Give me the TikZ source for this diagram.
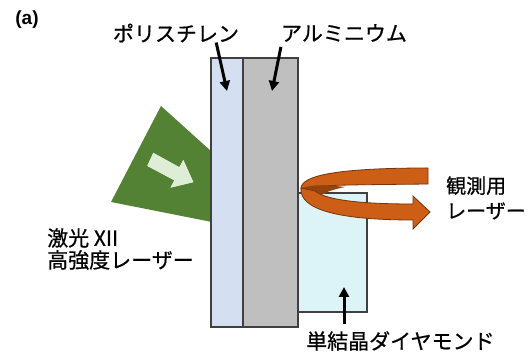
\documentclass[tikz,border=0pt]{standalone}
\usepackage{fontspec}
\setmainfont{Noto Sans CJK JP}[FakeBold=0.6]
\newfontfamily\tagfont{Liberation Sans}
\usetikzlibrary{arrows.meta,positioning,calc}
\definecolor{drive}{RGB}{84,130,53}
\definecolor{drivelight}{RGB}{222,238,214}
\definecolor{psfill}{RGB}{212,223,241}
\definecolor{alfill}{RGB}{191,191,191}
\definecolor{dmfill}{RGB}{220,244,247}
\definecolor{edge}{RGB}{64,64,64}
\definecolor{probe}{RGB}{204,94,22}
\definecolor{probedark}{RGB}{150,66,14}
\definecolor{probeedge}{RGB}{118,52,12}

\begin{document}
\begin{tikzpicture}[x=1pt,y=-1pt,
    lbl/.style={font=\fontsize{21}{24}\selectfont,inner sep=0pt},
    pointer/.style={line width=3pt,-{Triangle[length=10pt,width=10pt]}},
    layer/.style={draw=edge,line width=1.2pt}]
  \useasboundingbox (0,0) rectangle (531,352);

  % drive laser
  \fill[drive] (161,106) -- (212,152) -- (212,222) -- (111,202) -- cycle;
  \draw[drivelight!70!white,fill=drivelight,line width=0.6pt]
    (153.4,153.2) -- (179.5,167.6) -- (183.3,160.5) -- (193,182)
    -- (170.9,187.3) -- (174.7,180.2) -- (147.6,165.8) -- cycle;

  % target
  \draw[layer,fill=psfill] (211,58) rectangle (243,327);
  \draw[layer,fill=alfill] (243,58) rectangle (298,327);
  \draw[layer,fill=dmfill] (298,193) rectangle (367,312);

  % probe beam
  \draw[probeedge,fill=probe,line width=0.8pt]
    (428,168) .. controls (340,168) and (300,175) .. (301,189)
    .. controls (312,185) and (340,185) .. (428,184) -- cycle;
  \fill[probedark] (303,188) .. controls (312,184) and (330,185) .. (345,187)
    .. controls (330,190) and (321,194) .. (318,198) -- cycle;
  \draw[probeedge,fill=probe,line width=0.8pt]
    (301,188) .. controls (299,210) and (340,220) .. (413,220)
    -- (413,229) -- (430,212) -- (413,196) -- (413,204)
    .. controls (360,204) and (326,200) .. (315,191) -- cycle;

  % labels
  \node[font=\tagfont\bfseries\fontsize{19}{22}\selectfont,inner sep=0pt] (tag) at (27,20) {(a)};
  \node[lbl] (ps) at (176,33) {ポリスチレン};
  \node[lbl] (al) at (344,33) {アルミニウム};
  \node[lbl,align=left,anchor=west,font=\fontsize{21}{22}\selectfont] (drv) at (47,249) {激光 XII\\高強度レーザー};
  \node[lbl,align=left,anchor=west,font=\fontsize{20}{25}\selectfont] (prb) at (446,198) {観測用\\レーザー};
  \node[lbl,anchor=west] (dm) at (306,341) {単結晶ダイヤモンド};

  \coordinate (psTip) at (227,91);
  \coordinate (alTip) at (272,91);
  \coordinate (dmTip) at (344,287);
  \draw[pointer] ([xshift=-23pt]ps.south east) -- (psTip);
  \draw[pointer] ([yshift=-5pt]al.south west) -- (alTip);
  \draw[pointer] ($(dm.north -| dmTip)+(0,-7)$) -- (dmTip);
\end{tikzpicture}
\end{document}
